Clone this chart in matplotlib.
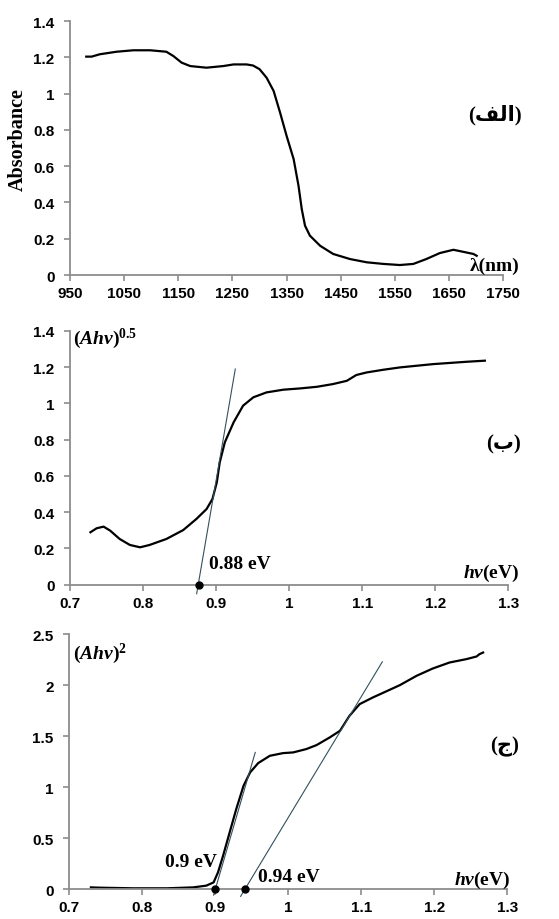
import matplotlib
matplotlib.use("Agg")
import matplotlib.pyplot as plt
import numpy as np

plt.rcParams['mathtext.fontset'] = 'custom'
plt.rcParams['mathtext.rm'] = 'Liberation Serif:bold'
plt.rcParams['mathtext.it'] = 'Liberation Serif:italic:bold'
plt.rcParams['mathtext.bf'] = 'Liberation Serif:bold'

# panel (a): absorbance spectrum
wl = [980, 990, 1005, 1036, 1067, 1098, 1128, 1141, 1156, 1172, 1202, 1233, 1252, 1276,
      1288, 1300, 1313, 1326, 1338, 1350, 1363, 1372, 1378, 1384, 1393, 1412, 1436, 1467, 1498,
      1529, 1559, 1584, 1608, 1633, 1658, 1676, 1695, 1701]
absorb = [1.204, 1.204, 1.217, 1.231, 1.239, 1.239, 1.231, 1.207, 1.171, 1.152, 1.143, 1.152,
          1.161, 1.161, 1.155, 1.135, 1.088, 1.015, 0.895, 0.767, 0.639, 0.492, 0.363, 0.272, 0.217,
          0.161, 0.116, 0.088, 0.070, 0.061, 0.055, 0.061, 0.088, 0.121, 0.139, 0.128, 0.116, 0.106]

# panel (b): (Ahv)^0.5
hv_b = [0.728, 0.7365, 0.746, 0.755, 0.768, 0.782, 0.796, 0.809, 0.832, 0.855, 0.873, 0.887,
        0.895, 0.901, 0.905, 0.912, 0.924, 0.937, 0.951, 0.969, 0.992, 1.015, 1.038, 1.060,
        1.079, 1.092, 1.106, 1.129, 1.152, 1.197, 1.243, 1.268]
ahv_b = [0.289, 0.311, 0.320, 0.298, 0.252, 0.219, 0.206, 0.219, 0.252, 0.301, 0.362, 0.417,
         0.472, 0.564, 0.674, 0.785, 0.895, 0.987, 1.033, 1.060, 1.075, 1.082, 1.091, 1.106,
         1.124, 1.156, 1.170, 1.185, 1.198, 1.216, 1.229, 1.235]
tan_b_x = [0.8734, 0.9263]
tan_b_y = [-0.05, 1.189]
gap_b = 0.876

# panel (c): (Ahv)^2
hv_c = [0.730, 0.742, 0.788, 0.834, 0.870, 0.888, 0.898, 0.904, 0.911, 0.920, 0.929, 0.939,
        0.948, 0.959, 0.975, 0.993, 1.007, 1.025, 1.039, 1.057, 1.071, 1.084, 1.098, 1.116,
        1.139, 1.153, 1.176, 1.198, 1.221, 1.244, 1.258, 1.262, 1.267]
ahv_c = [0.016, 0.013, 0.007, 0.007, 0.016, 0.033, 0.065, 0.163, 0.327, 0.556, 0.784, 1.013,
         1.144, 1.235, 1.307, 1.333, 1.340, 1.373, 1.412, 1.487, 1.552, 1.699, 1.814, 1.879,
         1.954, 2.000, 2.092, 2.163, 2.222, 2.255, 2.281, 2.304, 2.320]
tan_c1_x = [0.898, 0.955]
tan_c1_y = [-0.06, 1.34]
tan_c2_x = [0.935, 1.129]
tan_c2_y = [-0.072, 2.229]
gaps_c = [0.90, 0.941]

spine_col = '#8c8c8c'
tan_col = '#34505e'
tick_font = dict(family='Liberation Sans', weight='bold', size=11)
serif_b = dict(family='Liberation Serif', weight='bold')
arab_font = dict(family=['Liberation Serif', 'DejaVu Sans'], weight='bold', size=15)

fig = plt.figure(figsize=(5.59, 9.2), dpi=100)

def style(ax, xlim, ylim, xticks, yticks, xlabels, ylabels):
	ax.set_xlim(xlim)
	ax.set_ylim(ylim)
	for s in ['top', 'right']:
		ax.spines[s].set_visible(False)
	for s in ['left', 'bottom']:
		ax.spines[s].set_color(spine_col)
		ax.spines[s].set_linewidth(1.3)
	ax.set_xticks(xticks)
	ax.set_yticks(yticks)
	ax.set_xticklabels(xlabels, fontdict=tick_font)
	ax.set_yticklabels(ylabels, fontdict=tick_font)
	ax.tick_params(direction='out', length=4, width=1.2, color=spine_col, pad=4)
	ax.tick_params(axis='y', pad=7)

# (a)
ax1 = fig.add_axes([0.1252, 0.700, 0.775, 0.276])
ax1.plot(wl, absorb, color='black', lw=1.6)
style(ax1, (950, 1750), (0, 1.4), np.arange(950, 1751, 100), np.arange(0, 1.41, 0.2),
      [str(v) for v in range(950, 1751, 100)], ['0', '0.2', '0.4', '0.6', '0.8', '1', '1.2', '1.4'])
fig.text(18 / 559, 1 - 140 / 920, 'Absorbance', rotation=90, ha='center', va='center', size=14.5, **serif_b)
ax1.text(1781, 0.03, 'λ(nm)', ha='right', va='baseline', size=14, clip_on=False, **serif_b)
ax1.text(1735, 0.887, '(\uFED2\uFEDF\uFE8D)', ha='center', va='center', fontdict=arab_font, clip_on=False)

# (b)
ax2 = fig.add_axes([0.1252, 0.3634, 0.784, 0.276])
ax2.plot(hv_b, ahv_b, color='black', lw=1.6)
ax2.plot(tan_b_x, tan_b_y, color=tan_col, lw=0.8, clip_on=False)
ax2.plot([gap_b], [0], 'o', color='black', ms=5, clip_on=False, zorder=5)
style(ax2, (0.7, 1.3), (0, 1.4), np.arange(0.7, 1.31, 0.1), np.arange(0, 1.41, 0.2),
      ['0.7', '0.8', '0.9', '1', '1.1', '1.2', '1.3'], ['0', '0.2', '0.4', '0.6', '0.8', '1', '1.2', '1.4'])
ax2.text(0.704, 1.335, r'$\mathrm{(}Ahv\mathrm{)}^{0.5}$', ha='left', va='baseline', size=14, clip_on=False)
ax2.text(0.890, 0.092, '0.88 eV', ha='left', va='baseline', size=14, **serif_b)
ax2.text(1.316, 0.042, r'$hv\mathrm{(eV)}$', ha='right', va='baseline', size=14, clip_on=False)
ax2.text(1.293, 0.776, '(\uFE8F)', ha='center', va='center', fontdict=arab_font, clip_on=False)

# (c)
ax3 = fig.add_axes([0.1234, 0.0326, 0.784, 0.277])
ax3.plot(hv_c, ahv_c, color='black', lw=1.6)
ax3.plot(tan_c1_x, tan_c1_y, color=tan_col, lw=0.8, clip_on=False)
ax3.plot(tan_c2_x, tan_c2_y, color=tan_col, lw=0.8, clip_on=False)
ax3.plot(gaps_c, [0, 0], 'o', color='black', ms=5, clip_on=False, zorder=5)
style(ax3, (0.7, 1.3), (0, 2.5), np.arange(0.7, 1.31, 0.1), np.arange(0, 2.51, 0.5),
      ['0.7', '0.8', '0.9', '1', '1.1', '1.2', '1.3'], ['0', '0.5', '1', '1.5', '2', '2.5'])
ax3.text(0.7055, 2.27, r'$\mathrm{(}Ahv\mathrm{)}^{2}$', ha='left', va='baseline', size=14, clip_on=False)
ax3.text(0.831, 0.228, '0.9 eV', ha='left', va='baseline', size=14, **serif_b)
ax3.text(0.959, 0.081, '0.94 eV', ha='left', va='baseline', size=14, **serif_b)
ax3.text(1.305, 0.049, r'$hv\mathrm{(eV)}$', ha='right', va='baseline', size=14, clip_on=False)
ax3.text(1.297, 1.40, '(\uFE9D)', ha='center', va='center', fontdict=arab_font, clip_on=False)

plt.savefig('out.png', dpi=100)
